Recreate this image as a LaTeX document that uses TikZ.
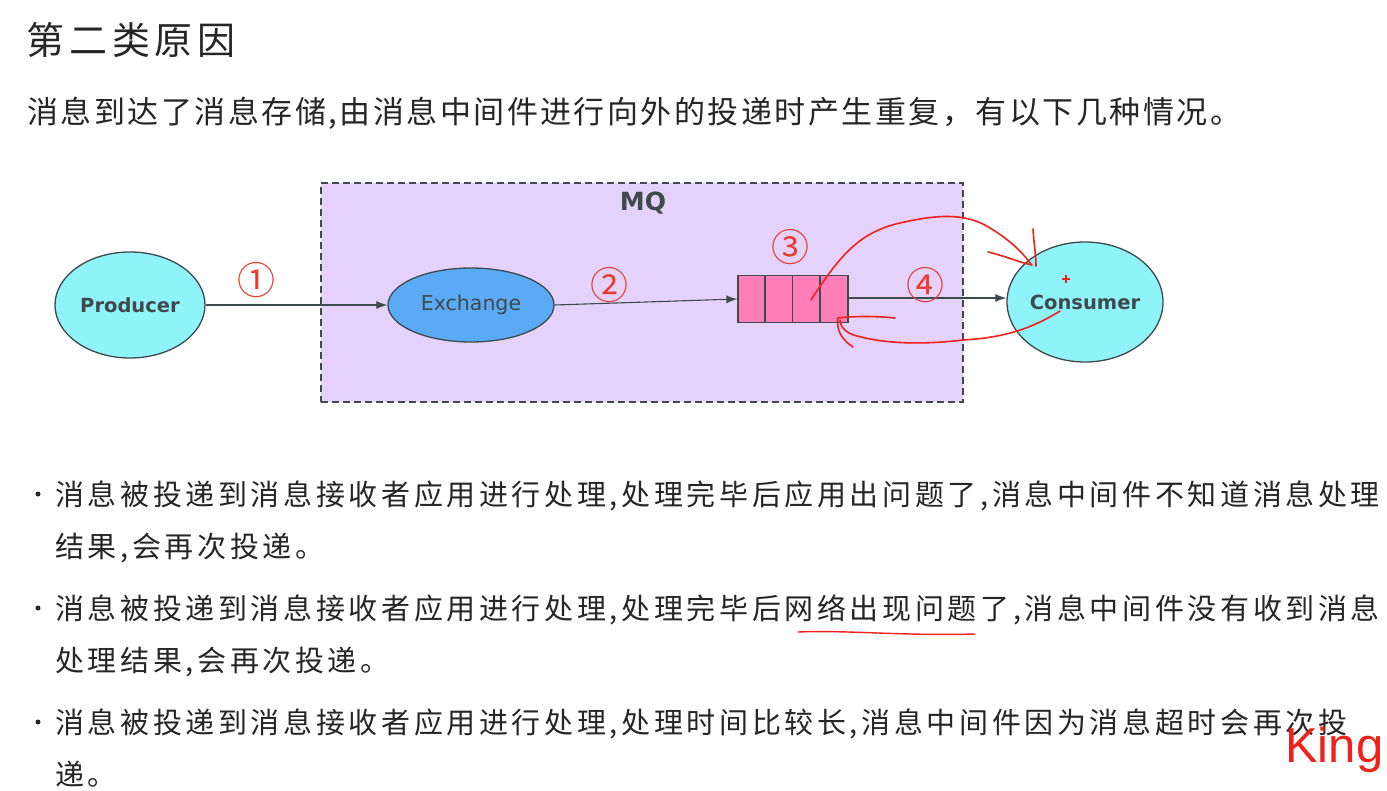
\documentclass[tikz,border=0pt]{standalone}
\usepackage{fontspec}
\setmainfont{DejaVu Sans}
\newfontfamily\cjk{Noto Sans CJK SC}
\newfontfamily\cjkwide[LetterSpace=12.5]{Noto Sans CJK SC}
\newfontfamily\cjksub[LetterSpace=8]{Noto Sans CJK SC}
\newfontfamily\cjktitle[LetterSpace=13]{Noto Sans CJK SC}
\newfontfamily\dvs{DejaVu Sans}
\newfontfamily\lib{Liberation Sans}
\usetikzlibrary{arrows.meta,calc,shapes.geometric}
\definecolor{cyanfill}{HTML}{8FF3FA}
\definecolor{bluefill}{HTML}{5AAAF5}
\definecolor{mqfill}{HTML}{E4D2FA}
\definecolor{pinkfill}{HTML}{FF7EB8}
\definecolor{edgegray}{HTML}{3F4A4C}
\definecolor{redink}{HTML}{F0201A}
\definecolor{numred}{HTML}{E83A30}
\definecolor{textgray}{HTML}{262626}
\tikzset{
  ent/.style={ellipse, draw=edgegray, line width=1.3pt, inner sep=0pt},
  flow/.style={draw=edgegray, line width=1.1pt, -{Latex[length=11pt,width=8pt]}},
  num/.style={text=numred, font=\cjk\fontsize{38}{38}\selectfont},
  ink/.style={draw=redink, line width=1.6pt, line cap=round, line join=round},
  body/.style={anchor=base west, inner sep=0pt, text=textgray, font=\cjkwide\fontsize{29}{29}\selectfont},
  bullet/.style={circle, fill=textgray, inner sep=0pt, minimum size=5pt}
}
\begin{document}
\begin{tikzpicture}[x=1pt,y=-1pt]
\useasboundingbox[fill=white] (0,0) rectangle (1387,791);
% headings
\node[body, font=\cjktitle\fontsize{38}{38}\selectfont] (title) at (26,55) {第二类原因};
\node[body, font=\cjksub\fontsize{31}{31}\selectfont] (sub) at (27,124) {消息到达了消息存储,由消息中间件进行向外的投递时产生重复，有以下几种情况。};
% MQ box
\node[draw=edgegray, dashed, dash pattern=on 7pt off 4pt, line width=1.4pt, fill=mqfill, minimum width=642pt, minimum height=219pt, inner sep=0pt] (mq) at (642,292.5) {};
\node[font=\dvs\bfseries\fontsize{25}{25}\selectfont, text=edgegray] (mqlabel) at (643,203) {MQ};
% entities
\node[ent, fill=cyanfill, minimum width=150pt, minimum height=106pt, font=\dvs\bfseries\fontsize{19.5}{19.5}\selectfont, text=edgegray] (prod) at (130,305) {Producer};
\node[ent, fill=bluefill, minimum width=166pt, minimum height=74pt, font=\dvs\fontsize{20.5}{20.5}\selectfont, text=edgegray] (exch) at (471,305) {Exchange};
\node[ent, fill=cyanfill, minimum width=156pt, minimum height=120pt, font=\dvs\bfseries\fontsize{19.5}{19.5}\selectfont, text=edgegray] (cons) at (1085,302) {Consumer};
% queue
\node[draw=edgegray, line width=1.3pt, fill=pinkfill, minimum width=110pt, minimum height=47pt, inner sep=0pt] (queue) at (793,299) {};
\foreach \i in {1,2,3} {
  \draw[edgegray, line width=1.3pt] ($(queue.north west)+(27.5*\i,0)$) -- ($(queue.south west)+(27.5*\i,0)$);
}
% flows
\draw[flow] (prod.east) -- (exch.west);
\draw[flow] (exch.east) -- (queue.west);
\draw[flow] (queue.east |- 0,298) -- (cons.west |- 0,298);
% numbers
\node[num] (n1) at (256,280) {①};
\node[num] (n2) at (609,285) {②};
\node[num] (n3) at (790,247) {③};
\node[num] (n4) at (925,285) {④};
% red ink annotations
\draw[ink] (811,300) .. controls (840,255) and (860,232) .. (900,223)
  .. controls (935,215) and (965,212) .. (990,228)
  .. controls (1010,240) and (1022,252) .. (1031,264);
\draw[ink] (988,252) .. controls (1005,256) and (1018,262) .. (1032,265);
\draw[ink] (1033,229) .. controls (1034,245) and (1036,255) .. (1036,266);
\draw[ink] (1060,311) .. controls (1030,330) and (1000,338) .. (963,340)
  .. controls (930,344) and (890,345) .. (857,336)
  .. controls (845,333) and (840,326) .. (840,320);
\draw[ink] (895,318) .. controls (875,316) and (855,316) .. (838,318);
\draw[ink] (838,318) .. controls (836,330) and (842,340) .. (853,347);
\draw[redink, line width=1.2pt] (1062,279) -- (1070,279) (1066,275) -- (1066,283);
% bullets
\foreach \y/\n in {494/b1,608/b2,722/b3} { \node[bullet] (\n) at (38,\y) {}; }
\node[body] (l1) at (55,505) {消息被投递到消息接收者应用进行处理,处理完毕后应用出问题了,消息中间件不知道消息处理};
\node[body] (l2) at (55,557) {结果,会再次投递。};
\node[body] (l3) at (55,619) {消息被投递到消息接收者应用进行处理,处理完毕后网络出现问题了,消息中间件没有收到消息};
\node[body] (l4) at (55,671) {处理结果,会再次投递。};
\node[body] (l5) at (55,733) {消息被投递到消息接收者应用进行处理,处理时间比较长,消息中间件因为消息超时会再次投};
\node[body] (l6) at (55,785) {递。};
\draw[ink, line width=1.4pt] (798,632) .. controls (850,630) and (900,636) .. (975,634);
\node[anchor=base west, inner sep=0pt, text=redink, font=\lib\fontsize{49}{49}\selectfont] (king) at (1285,762) {King};
\end{tikzpicture}
\end{document}
